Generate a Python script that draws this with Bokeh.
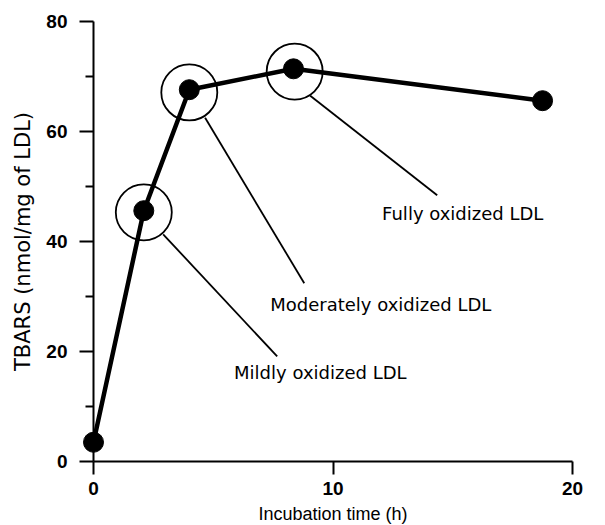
from bokeh.plotting import figure
from bokeh.models import ColumnDataSource, FixedTicker, Range1d, Label
from bokeh.embed import file_html
from bokeh.resources import INLINE

# ---- data ----
time_h = [0, 2.1, 4.0, 8.35, 18.75]
tbars = [3.5, 45.6, 67.6, 71.4, 65.6]

circled_time = [2.1, 4.0, 8.4]
circled_tbars = [45.3, 67.1, 70.9]

labels = ["Mildly oxidized LDL", "Moderately oxidized LDL", "Fully oxidized LDL"]

x_ticks = [0, 10, 20]
y_ticks = [0, 20, 40, 60, 80]
y_minor_ticks = [10, 30, 50, 70]

x_title = "Incubation time (h)"
y_title = "TBARS (nmol/mg of LDL)"

# ---- layout of the annotations (data coordinates) ----
label_x = [5.87, 7.38, 12.05]
label_y = [16.2, 28.5, 45.1]
leader_x0 = [2.91, 4.66, 9.05]
leader_y0 = [41.3, 62.5, 66.5]
leader_x1 = [7.67, 8.8, 14.35]
leader_y1 = [19.1, 32.4, 48.4]

p = figure(
    frame_width=479, frame_height=440,
    x_range=Range1d(0, 20), y_range=Range1d(0, 80),
    output_backend="svg", toolbar_location=None,
    min_border_left=93, min_border_right=33,
    min_border_top=21, min_border_bottom=64,
)
p.outline_line_color = None
p.xgrid.visible = False
p.ygrid.visible = False
p.background_fill_color = "white"
p.border_fill_color = "white"

for ax in (p.xaxis[0], p.yaxis[0]):
    ax.axis_line_width = 2
    ax.axis_line_color = "black"
    ax.major_tick_line_width = 2
    ax.major_tick_line_color = "black"
    ax.minor_tick_line_width = 2
    ax.minor_tick_line_color = "black"
    ax.major_tick_in = 0
    ax.minor_tick_in = 0
    ax.major_label_text_font = "Liberation Sans"
    ax.major_label_text_font_style = "bold"
    ax.major_label_text_font_size = "19px"
    ax.major_label_text_color = "black"
    ax.axis_label_text_font_style = "normal"
    ax.axis_label_text_color = "black"

p.xaxis[0].ticker = FixedTicker(ticks=x_ticks, minor_ticks=[])
p.yaxis[0].ticker = FixedTicker(ticks=y_ticks, minor_ticks=y_minor_ticks)
p.xaxis[0].major_tick_out = 13
p.yaxis[0].major_tick_out = 14
p.yaxis[0].minor_tick_out = 8
p.xaxis[0].major_label_standoff = 7
p.yaxis[0].major_label_standoff = 12
p.xaxis[0].axis_label = x_title
p.yaxis[0].axis_label = y_title
p.xaxis[0].axis_label_text_font = "Liberation Sans"
p.xaxis[0].axis_label_text_font_size = "18px"
p.yaxis[0].axis_label_text_font = "DejaVu Sans"
p.yaxis[0].axis_label_text_font_size = "21px"
p.xaxis[0].axis_label_standoff = 6
p.yaxis[0].axis_label_standoff = 8

src = ColumnDataSource(dict(x=time_h, y=tbars))
p.line("x", "y", source=src, line_width=4.5, line_color="black", line_join="round")
r = p.scatter("x", "y", source=src, size=20, fill_color="black", line_color="black")
r.level = "overlay"

csrc = ColumnDataSource(dict(x=circled_time, y=circled_tbars))
p.scatter("x", "y", source=csrc, size=56, fill_color=None, line_color="black", line_width=1.8)

lsrc = ColumnDataSource(dict(x0=leader_x0, y0=leader_y0, x1=leader_x1, y1=leader_y1))
p.segment("x0", "y0", "x1", "y1", source=lsrc, line_width=1.8, line_color="black")

for t, lx, ly in zip(labels, label_x, label_y):
    p.add_layout(Label(x=lx, y=ly, text=t, text_font="DejaVu Sans", text_font_size="18px",
                       text_baseline="middle", text_align="left", text_color="black"))

open("out.html", "w").write(file_html(p, INLINE))
